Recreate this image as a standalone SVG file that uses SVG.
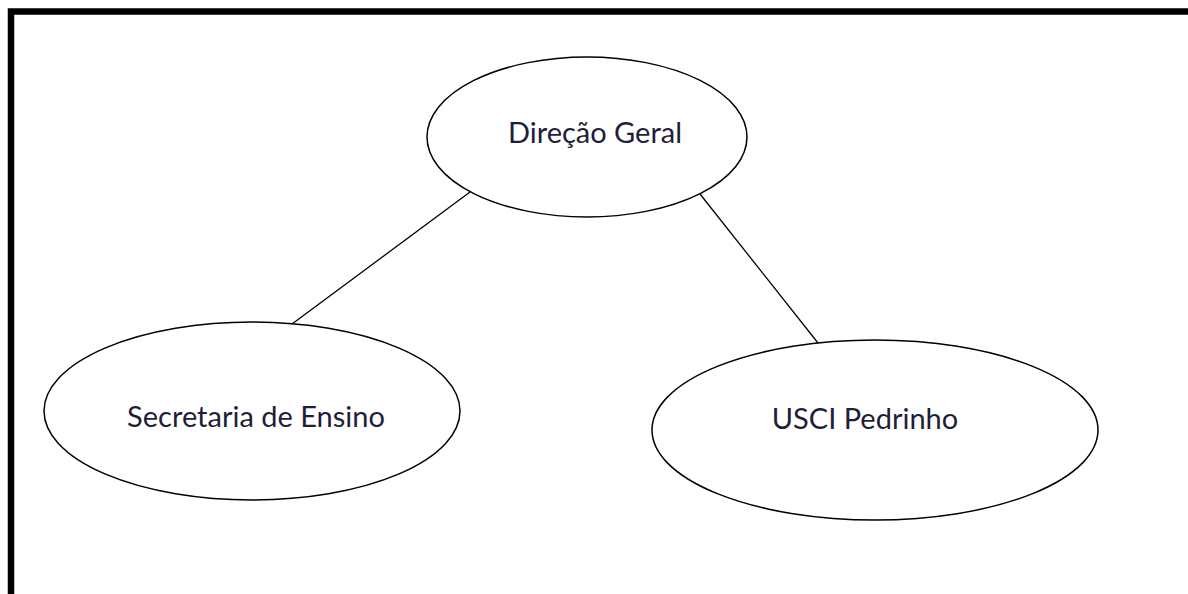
<svg xmlns="http://www.w3.org/2000/svg" width="1188" height="594" viewBox="0 0 1188 594">
<style>
.node ellipse{fill:#fff;stroke:#000;stroke-width:1.5}
.node text{font-family:Lato,"Open Sans","Liberation Sans",sans-serif;font-size:29px;fill:#1e1e3a;text-anchor:middle}
.conn line{stroke:#000;stroke-width:1.3}
</style>
<rect width="1188" height="594" fill="#fff"/>
<path d="M11,594 V11.5 H1188" fill="none" stroke="#000" stroke-width="6.5"/>
<g class="conn">
<line x1="470" y1="192" x2="292" y2="324"/>
<line x1="700" y1="194" x2="818" y2="343"/>
</g>
<g id="direcao" class="node">
<ellipse cx="587" cy="137" rx="160" ry="80"/>
<text x="595" y="143">Direção Geral</text>
</g>
<g id="secretaria" class="node">
<ellipse cx="252" cy="411" rx="208" ry="89"/>
<text x="256" y="427">Secretaria de Ensino</text>
</g>
<g id="usci" class="node">
<ellipse cx="875" cy="430" rx="223" ry="90"/>
<text x="865" y="429">USCI Pedrinho</text>
</g>
</svg>
